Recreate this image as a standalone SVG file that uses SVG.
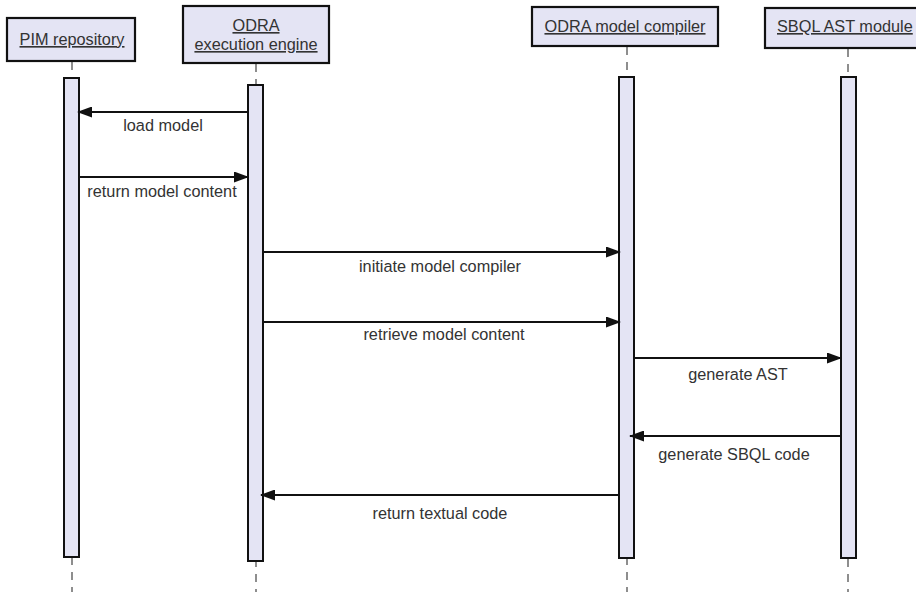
<svg xmlns="http://www.w3.org/2000/svg" width="916" height="592" viewBox="0 0 916 592">
<style>
.box{fill:#e4e4f4;stroke:#111;stroke-width:2.2}
.bar{fill:#e4e4f4;stroke:#111;stroke-width:2}
.life{stroke:#444;stroke-width:1.2;stroke-dasharray:8,7}
.title{font-family:"Liberation Sans",Arial,sans-serif;font-size:16.3px;fill:#333;text-anchor:middle;text-decoration:underline}
.msg{stroke:#111;stroke-width:2;fill:none;marker-end:url(#ah)}
.lbl{font-family:"Liberation Sans",Arial,sans-serif;font-size:16.3px;fill:#333;text-anchor:middle}
</style>
<defs>
<marker id="ah" markerWidth="15" markerHeight="11" refX="14" refY="5.5" orient="auto" markerUnits="userSpaceOnUse">
<path d="M0,0 L15,5.5 L0,11 Z" fill="#111"/>
</marker>
</defs>
<rect width="916" height="592" fill="#fff"/>
<g id="lifelines">
<line class="life" x1="72" y1="62" x2="72" y2="592"/>
<line class="life" x1="256" y1="64" x2="256" y2="592"/>
<line class="life" x1="627" y1="47" x2="627" y2="592"/>
<line class="life" x1="848" y1="49" x2="848" y2="592"/>
</g>
<g id="pim">
<rect class="box" x="7" y="18" width="128" height="43"/>
<text class="title" x="72" y="45">PIM repository</text>
<rect class="bar" x="64" y="78" width="15" height="479"/>
</g>
<g id="engine">
<rect class="box" x="183" y="6" width="146" height="57"/>
<text class="title" x="256" y="31">ODRA</text>
<text class="title" x="256" y="50">execution engine</text>
<rect class="bar" x="248" y="85" width="15" height="476"/>
</g>
<g id="compiler">
<rect class="box" x="532" y="7" width="186" height="39"/>
<text class="title" x="625" y="32">ODRA model compiler</text>
<rect class="bar" x="619" y="77" width="15" height="481"/>
</g>
<g id="sbql">
<rect class="box" x="765" y="8" width="160" height="40"/>
<text class="title" x="777" y="32" style="text-anchor:start">SBQL AST module</text>
<rect class="bar" x="841" y="77" width="15" height="481"/>
</g>
<g id="connectors">
<line class="msg" x1="248" y1="112" x2="78" y2="112"/>
<line class="msg" x1="79" y1="177" x2="248" y2="177"/>
<line class="msg" x1="263" y1="252" x2="620" y2="252"/>
<line class="msg" x1="263" y1="322" x2="620" y2="322"/>
<line class="msg" x1="634" y1="358" x2="841" y2="358"/>
<line class="msg" x1="841" y1="436" x2="630" y2="436"/>
<line class="msg" x1="619" y1="495" x2="261" y2="495"/>
</g>
<g id="labels">
<text class="lbl" x="163" y="131">load model</text>
<text class="lbl" x="162" y="197">return model content</text>
<text class="lbl" x="440" y="272">initiate model compiler</text>
<text class="lbl" x="444" y="340">retrieve model content</text>
<text class="lbl" x="738" y="380">generate AST</text>
<text class="lbl" x="734" y="460">generate SBQL code</text>
<text class="lbl" x="440" y="519">return textual code</text>
</g>
</svg>
